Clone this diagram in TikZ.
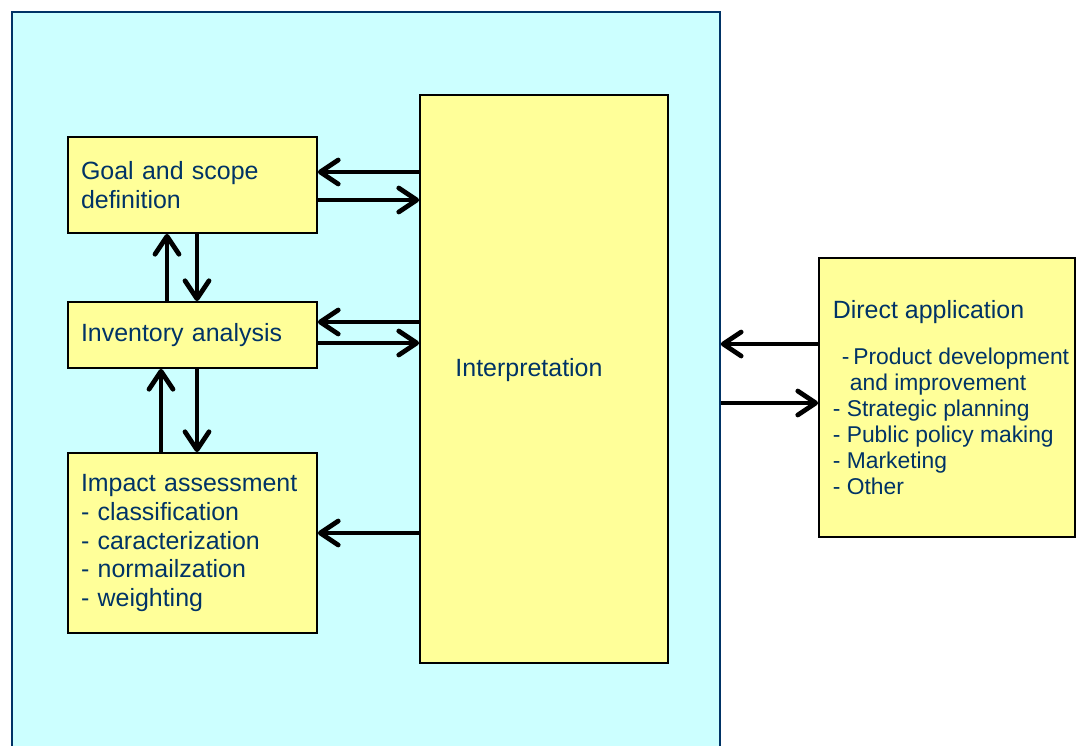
\documentclass[tikz,border=0pt]{standalone}
\usepackage{fontspec}
\setmainfont{Liberation Sans}
\usetikzlibrary{arrows.meta}
\definecolor{framecyan}{RGB}{204,255,255}
\definecolor{frameedge}{RGB}{0,51,102}
\definecolor{stageyellow}{RGB}{255,255,153}
\definecolor{inkblue}{RGB}{0,51,102}
\tikzset{
  stage/.style={draw=black, line width=1pt, fill=stageyellow, text=inkblue,
    inner sep=0pt, align=left, font=\fontsize{14.2}{16.4}\selectfont},
  flow/.style={line width=2.7pt, -{Straight Barb[length=3.6mm, width=4.8mm, round]}},
}

\begin{document}
\begin{tikzpicture}[x=0.02cm, y=-0.02cm]
  \path[use as bounding box, fill=white] (0,0) rectangle (1083,745);
  \node[draw=frameedge, line width=1pt, fill=framecyan, inner sep=0pt,
        minimum width=14.16cm, minimum height=15.76cm] (frame) at (366,406) {};
  \node[stage, minimum width=4.98cm, minimum height=1.92cm, text width=4.46cm]
    (goal) at (192.5,185) {Goal and scope\\definition};
  \node[stage, minimum width=4.98cm, minimum height=1.32cm, text width=4.46cm]
    (inv) at (192.5,335) {Inventory analysis};
  \node[stage, minimum width=4.98cm, minimum height=3.6cm, text width=4.46cm]
    (impact) at (192.5,543) {Impact assessment\\- classification\\- caracterization\\- normailzation\\- weighting};
  \node[stage, minimum width=4.96cm, minimum height=11.36cm] (interp) at (544,379) {};
  \node[text=inkblue, inner sep=0pt, font=\fontsize{14.2}{16.4}\selectfont]
    (interplabel) at (529,370) {Interpretation};
  \node[stage, minimum width=5.12cm, minimum height=5.58cm, font=\fontsize{13}{14.8}\selectfont]
    (direct) at (947,397.5) {\hspace*{0.16cm}{\fontsize{14.2}{16.4}\selectfont Direct application}\\[0.4cm]
      \hspace*{0.34cm}-\,Product development\\
      \hspace*{0.5cm}and improvement\\
      \hspace*{0.16cm}- Strategic planning\\
      \hspace*{0.16cm}- Public policy making\\
      \hspace*{0.16cm}- Marketing\\
      \hspace*{0.16cm}- Other};

  % links between the phases
  \draw[flow] ([xshift=-5.1mm]goal.south |- inv.north) -- ([xshift=-5.1mm]goal.south);
  \draw[flow] ([xshift=0.9mm]goal.south) -- ([xshift=0.9mm]goal.south |- inv.north);
  \draw[flow] ([xshift=-6.3mm]inv.south |- impact.north) -- ([xshift=-6.3mm]inv.south);
  \draw[flow] ([xshift=0.9mm]inv.south) -- ([xshift=0.9mm]inv.south |- impact.north);

  \draw[flow] ([yshift=2.6mm]goal.east -| interp.west) -- ([yshift=2.6mm]goal.east);
  \draw[flow] ([yshift=-3mm]goal.east) -- ([yshift=-3mm]goal.east -| interp.west);
  \draw[flow] ([yshift=2.6mm]inv.east -| interp.west) -- ([yshift=2.6mm]inv.east);
  \draw[flow] ([yshift=-1.6mm]inv.east) -- ([yshift=-1.6mm]inv.east -| interp.west);
  \draw[flow] ([yshift=2mm]impact.east -| interp.west) -- ([yshift=2mm]impact.east);

  \draw[flow] ([yshift=10.7mm]direct.west) -- ([yshift=10.7mm]direct.west -| frame.east);
  \draw[flow] ([yshift=-1.1mm]direct.west -| frame.east) -- ([yshift=-1.1mm]direct.west);
\end{tikzpicture}
\end{document}
